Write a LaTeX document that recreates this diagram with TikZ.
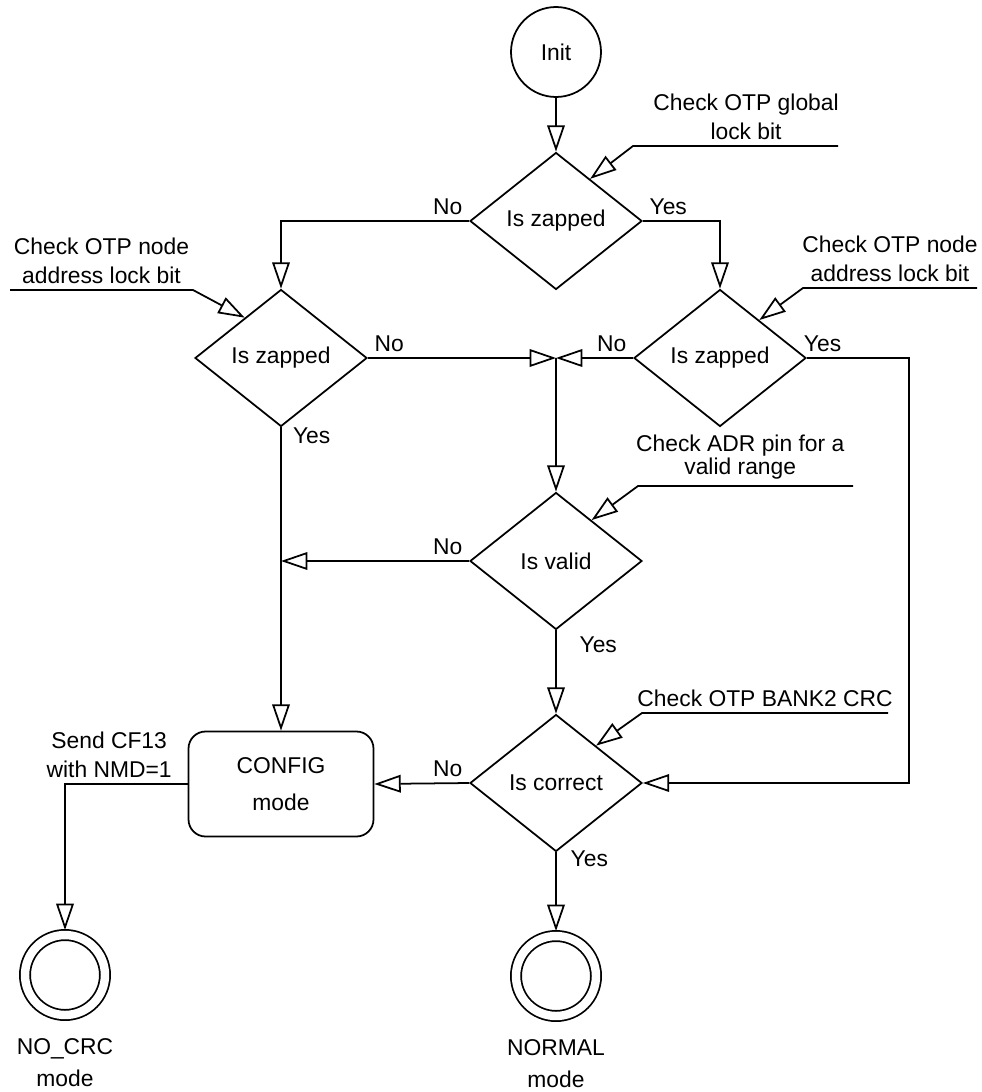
\documentclass[tikz,border=0pt]{standalone}
\usepackage{fontspec}
\setmainfont{Liberation Sans}
\usetikzlibrary{shapes.geometric}
\usetikzlibrary{arrows.meta}
\usetikzlibrary{positioning}

\begin{document}
\begin{tikzpicture}[x=0.02cm, y=-0.02cm, line width=1pt, font=\fontsize{13}{16}\selectfont,
state/.style={draw, circle, minimum size=1.8cm, inner sep=0pt},
test/.style={draw, diamond, minimum width=3.44cm, minimum height=2.74cm, inner sep=0pt},
mode/.style={draw, rounded corners=0.34cm, minimum width=3.7cm, minimum height=2.1cm, align=center},
final/.style={draw, circle, double, double distance=4.8pt, minimum size=1.6cm, outer sep=0.1cm},
note/.style={align=center},
>={Triangle[open, length=15pt, width=10pt]}]

\useasboundingbox (0,0) rectangle (981,1092);

\node[state] (init) at (556,52) {Init};
\node[test] (d1) at (556,221) {Is zapped};
\node[test] (d2) at (281,358) {Is zapped};
\node[test] (d3) at (720,358) {Is zapped};
\node[test] (d4) at (556,561) {Is valid};
\node[test] (d5) at (556,783) {Is correct};
\node[mode] (cfg) at (281,784) {CONFIG\\[5pt]mode};
\node[final] (e1) at (65,975) {};
\node[final] (e2) at (556,976) {};
\node[note, below=7pt of e1] (t1) {NO\_CRC\\[2pt]mode};
\node[note, below=7pt of e2] (t2) {NORMAL\\[2pt]mode};

\coordinate (jn) at (d1 |- d2);
\coordinate (rt) at (909,358);

\draw[->] (init) -- (d1);
\draw[->] (d1.west) node[above left]{No} -| (d2.north);
\draw[->] (d1.east) node[above right]{Yes} -| (d3.north);
\draw[->] (d2.east) node[above right]{No} -- (jn);
\draw[->] (d3.west) node[above left]{No} -- (jn);
\draw[->] (jn) -- (d4);
\draw[->] (d2.south) node[below right, xshift=3pt, yshift=3.7pt]{Yes} -- (cfg.north);
\draw[->] (d4.west) node[above left]{No} -- (d4.west -| d2.south);
\draw[->] (d4.south) node[below right, xshift=9.6pt]{Yes} -- (d5.north);
\draw[->] (d3.east) node[above right, xshift=-5.5pt]{Yes} -- (rt) |- (d5.east);
\draw[->] (d5.west) node[above left]{No} -- (cfg.east);
\draw[->] (d5.south) node[below right, xshift=4.5pt, yshift=4.9pt]{Yes} -- (e2.north);
\draw[->] (cfg.west) -| node[above, pos=.32, note]{Send CF13\\with NMD=1} (e1.north);

% side checks
\coordinate (n1) at (838,146);
\coordinate (n2) at (10,290);
\coordinate (n3) at (977,288);
\coordinate (n4) at (853,486);
\coordinate (n5) at (888,713);
\draw[->] (n1) -- node[above, note, xshift=6pt]{Check OTP global\\lock bit} ++(-205,0) -- (d1.51);
\draw[->] (n2) -- node[above, note]{Check OTP node\\address lock bit} ++(183,0) -- (d2.132);
\draw[->] (n3) -- node[above, note]{Check OTP node\\address lock bit} ++(-174,0) -- (d3.44);
\draw[->] (n4) -- node[above, note, xshift=-3pt]{Check ADR pin for a\\[-3pt]valid range} ++(-215,0) -- (d4.49);
\draw[->] (n5) -- node[above, note]{Check OTP BANK2 CRC} ++(-246,0) -- (d5.43);
\end{tikzpicture}
\end{document}
